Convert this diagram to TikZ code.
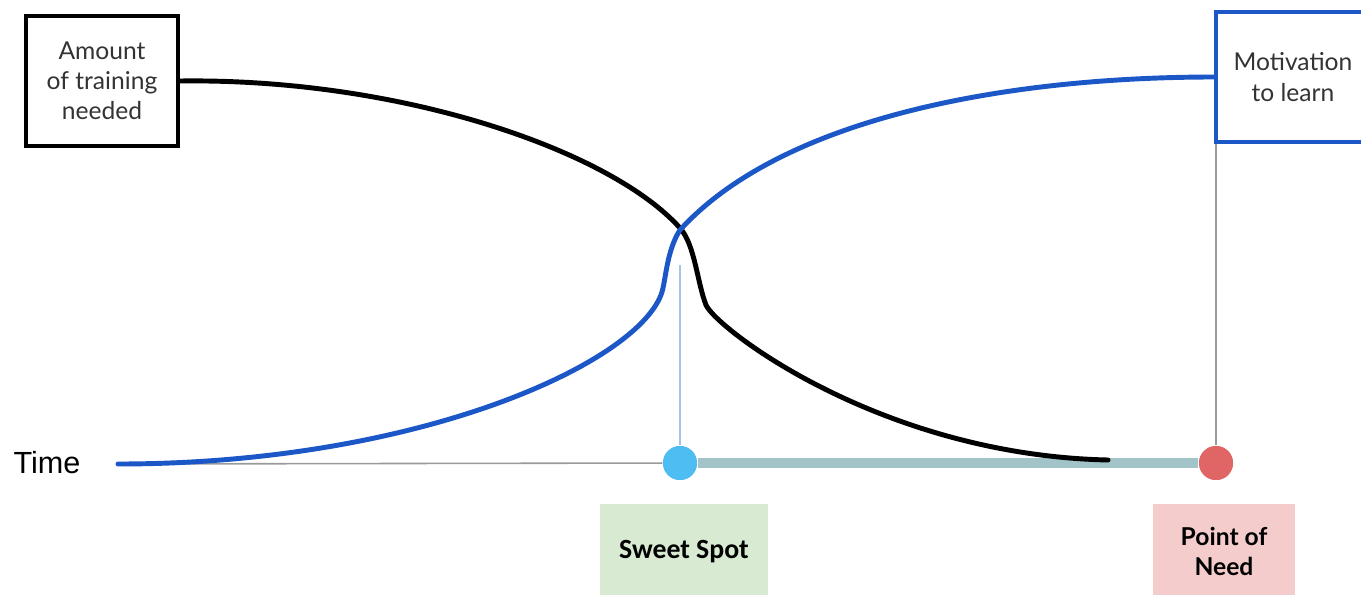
\documentclass[tikz,border=0pt]{standalone}
\usepackage{fontspec}
\setmainfont{Lato}
\newfontfamily\timefont{Liberation Sans}
\newfontfamily\spotfont{Carlito}
\usetikzlibrary{positioning}
\definecolor{MotivBlue}{HTML}{1C57C7}
\definecolor{SweetBlue}{HTML}{4DBDF2}
\definecolor{NeedRed}{HTML}{E06666}
\definecolor{Track}{HTML}{A2C4C9}
\definecolor{AxisGrey}{HTML}{9A9A9A}
\definecolor{GuideBlue}{HTML}{9FC5E8}
\definecolor{SweetFill}{HTML}{D9EAD3}
\definecolor{NeedFill}{HTML}{F4CCCC}
\definecolor{Ink}{HTML}{333333}

\begin{document}
\begin{tikzpicture}[x=0.01cm,y=-0.01cm,
    textbox/.style={rectangle,fill=white,line width=1pt,minimum width=1.52cm,
      minimum height=1.30cm,align=center,text=Ink,font=\fontsize{7}{8.6}\selectfont},
    tag/.style={rectangle,anchor=north,minimum height=0.95cm,align=center,
      font=\fontsize{7}{8.6}\selectfont\bfseries},
    dot/.style={circle,inner sep=0pt,minimum size=0.34cm},
    curve/.style={line width=1.4pt,line cap=round},
    axisline/.style={AxisGrey,line width=0.45pt},
    track/.style={Track,line width=2.9pt}
  ]
    \useasboundingbox[fill=white] (0,0) rectangle (1361,594);
    % labels on the axis
    \node[font=\timefont\fontsize{8.7}{10}\selectfont] (time) at (47,463) {Time};
    \coordinate (start) at (118,464);
    \node[dot,fill=SweetBlue] (sweet) at (680,463) {};
    \node[dot,fill=NeedRed] (need) at (1216,463) {};
    \node[tag,fill=SweetFill,minimum width=1.68cm,font=\spotfont\fontsize{7.9}{9}\selectfont\bfseries]
      (spotlbl) at (684,503) {Sweet Spot};
    \node[tag,fill=NeedFill,minimum width=1.41cm] (needlbl) at (1224,503) {Point of\\Need};
    % boxes
    \node[textbox,draw=black] (training) at (102,81) {Amount\\of training\\needed};
    \node[textbox,draw=MotivBlue,minimum width=1.54cm] (motiv) at (1293,77)
      {Motivation\\to learn};
    % axis and guide lines
    \draw[axisline] (start) -- (sweet);
    \draw[track] (sweet) -- (need);
    \draw[axisline] (need) -- (need |- motiv.south);
    \draw[GuideBlue,line width=0.45pt] (sweet) -- ++(0,-198);
    % the two curves
    \draw[curve,black] (training.east) .. controls (400,78) and (610,150) .. (680,228)
      .. controls (695,245) and (697,282) .. (706,305)
      .. controls (716,328) and (880,455) .. (1108,460);
    \draw[curve,MotivBlue] (start) .. controls (420,464) and (640,362) .. (662,292)
      .. controls (666,278) and (667,250) .. (680,230)
      .. controls (780,120) and (1000,77) .. (motiv.west);
    \node[dot,fill=SweetBlue] at (sweet) {};
    \node[dot,fill=NeedRed] at (need) {};
  \end{tikzpicture}
\end{document}
